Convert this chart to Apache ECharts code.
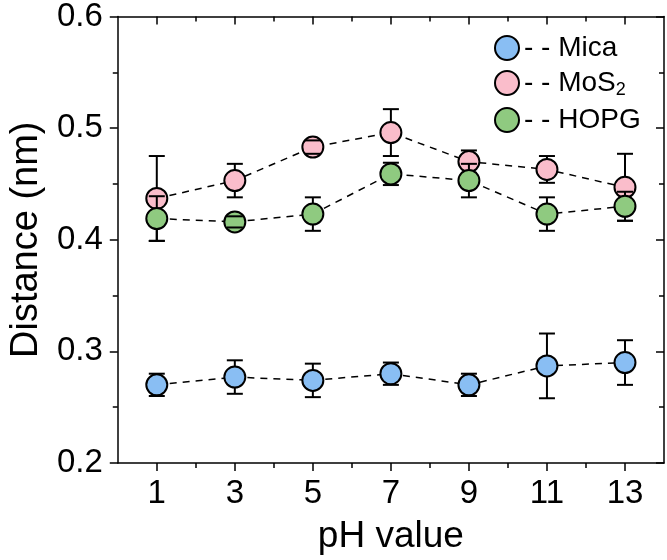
<!DOCTYPE html>
<html>
<head>
<meta charset="utf-8">
<script src="https://cdn.jsdelivr.net/npm/echarts@6/dist/echarts.min.js"></script>
<style>
  html, body { margin: 0; padding: 0; background: #fff; }
  #chart { width: 667px; height: 560px; }
</style>
</head>
<body>
<div id="chart"></div>
<script>
  // pH values and measured distances (nm)
  const phValues = [1, 3, 5, 7, 9, 11, 13];
  const micaMean = [0.270, 0.277, 0.274, 0.280, 0.270, 0.287, 0.290];
  const micaErr  = [0.010, 0.015, 0.015, 0.010, 0.010, 0.029, 0.020];
  const mos2Mean = [0.437, 0.453, 0.483, 0.496, 0.470, 0.463, 0.447];
  const mos2Err  = [0.038, 0.015, 0.006, 0.021, 0.010, 0.012, 0.030];
  const hopgMean = [0.419, 0.416, 0.423, 0.459, 0.453, 0.423, 0.430];
  const hopgErr  = [0.020, 0.005, 0.015, 0.010, 0.015, 0.015, 0.013];

  const xTickLabels = [1, 3, 5, 7, 9, 11, 13];
  const xMinorTicks = [2, 4, 6, 8, 10, 12];
  const yTickLabels = [0.2, 0.3, 0.4, 0.5, 0.6];

  const FONT = "'Liberation Sans', Arial, sans-serif";
  const SYMBOL = 21;
  const CAP = 16;

  let chart = echarts.init(document.getElementById('chart'));

  // error bar: caps always drawn, stem stops at the circle edge
  function errRender(params, api) {
    const x = api.value(0), y = api.value(1), e = api.value(2);
    const c = api.coord([x, y]);
    const top = api.coord([x, y + e]);
    const bot = api.coord([x, y - e]);
    const r = SYMBOL / 2;
    const st = { stroke: '#000', lineWidth: 2 };
    const children = [
      { type: 'line', shape: { x1: c[0] - CAP / 2, y1: top[1], x2: c[0] + CAP / 2, y2: top[1] }, style: st },
      { type: 'line', shape: { x1: c[0] - CAP / 2, y1: bot[1], x2: c[0] + CAP / 2, y2: bot[1] }, style: st }
    ];
    if (top[1] < c[1] - r) {
      children.push({ type: 'line', shape: { x1: c[0], y1: top[1], x2: c[0], y2: c[1] - r }, style: st });
    }
    if (bot[1] > c[1] + r) {
      children.push({ type: 'line', shape: { x1: c[0], y1: c[1] + r, x2: c[0], y2: bot[1] }, style: st });
    }
    return { type: 'group', children: children };
  }

  function pts(means) {
    return phValues.map((p, i) => [p, means[i]]);
  }
  function errPts(means, errs) {
    return phValues.map((p, i) => [p, means[i], errs[i]]);
  }

  function lineSeries(name, color, means, z) {
    return {
      name: name,
      type: 'line',
      data: pts(means),
      symbol: 'circle',
      symbolSize: SYMBOL,
      z: z,
      itemStyle: { color: color, borderColor: '#000', borderWidth: 2 },
      lineStyle: { color: '#000', width: 1.5, type: [7, 6] },
      emphasis: { disabled: true }
    };
  }
  function errSeries(means, errs, z) {
    return {
      type: 'custom',
      renderItem: errRender,
      data: errPts(means, errs),
      encode: { x: 0, y: 1 },
      z: z,
      silent: true
    };
  }

  const axisLineStyle = { color: '#000', width: 1.5 };

  chart.setOption({
    backgroundColor: '#fff',
    animation: false,
    textStyle: { fontFamily: FONT },
    grid: { left: 104, right: 3, top: 15, bottom: 95 },
    legend: {
      orient: 'vertical',
      left: 489,
      top: 29,
      itemWidth: 24,
      itemHeight: 24,
      itemGap: 7,
      icon: 'circle',
      data: ['Mica', 'MoS2', 'HOPG'],
      itemStyle: { borderColor: '#000', borderWidth: 2 },
      formatter: function (name) {
        if (name === 'MoS2') return '{d|- - }{n|MoS}{s|2}';
        return '{d|- - }{n|' + name + '}';
      },
      textStyle: {
        fontFamily: FONT,
        color: '#000',
        rich: {
          d: { fontSize: 28, fontFamily: FONT, color: '#000' },
          n: { fontSize: 28, fontFamily: FONT, color: '#000' },
          s: { fontSize: 18, fontFamily: FONT, color: '#000', verticalAlign: 'bottom', padding: [14, 0, 0, 0] }
        }
      }
    },
    xAxis: [
      {
        type: 'value', position: 'bottom', min: 0, max: 14, interval: 1,
        name: 'pH value', nameLocation: 'middle', nameGap: 55,
        nameTextStyle: { fontSize: 37, color: '#000', fontFamily: FONT },
        axisLine: { onZero: false, lineStyle: axisLineStyle },
        axisTick: { customValues: xTickLabels, length: 8, lineStyle: axisLineStyle },
        axisLabel: { customValues: xTickLabels, fontSize: 33, color: '#000', margin: 14, fontFamily: FONT },
        splitLine: { show: false }
      },
      {
        type: 'value', position: 'bottom', min: 0, max: 14, interval: 1,
        axisLine: { show: false, onZero: false },
        axisTick: { customValues: xMinorTicks, length: 5, lineStyle: axisLineStyle },
        axisLabel: { show: false },
        splitLine: { show: false }
      },
      {
        type: 'value', position: 'top', min: 0, max: 14, interval: 1,
        axisLine: { onZero: false, lineStyle: axisLineStyle },
        axisTick: { inside: true, customValues: xTickLabels, length: 8, lineStyle: axisLineStyle },
        axisLabel: { show: false },
        splitLine: { show: false }
      },
      {
        type: 'value', position: 'top', min: 0, max: 14, interval: 1,
        axisLine: { show: false, onZero: false },
        axisTick: { inside: true, customValues: xMinorTicks, length: 5, lineStyle: axisLineStyle },
        axisLabel: { show: false },
        splitLine: { show: false }
      }
    ],
    yAxis: [
      {
        type: 'value', position: 'left', min: 0.2, max: 0.6, interval: 0.1,
        name: 'Distance (nm)', nameLocation: 'middle', nameGap: 65,
        nameTextStyle: { fontSize: 38, color: '#000', fontFamily: FONT },
        axisLine: { onZero: false, lineStyle: axisLineStyle },
        axisTick: { length: 8, lineStyle: axisLineStyle },
        minorTick: { show: true, splitNumber: 2, length: 5, lineStyle: axisLineStyle },
        axisLabel: {
          customValues: yTickLabels, fontSize: 33, color: '#000', margin: 15, fontFamily: FONT,
          formatter: v => v.toFixed(1)
        },
        splitLine: { show: false },
        minorSplitLine: { show: false }
      },
      {
        type: 'value', position: 'right', min: 0.2, max: 0.6, interval: 0.1,
        axisLine: { onZero: false, lineStyle: axisLineStyle },
        axisTick: { inside: true, length: 8, lineStyle: axisLineStyle },
        minorTick: { show: true, splitNumber: 2, length: 5, lineStyle: axisLineStyle },
        axisLabel: { show: false },
        splitLine: { show: false },
        minorSplitLine: { show: false }
      }
    ],
    series: [
      lineSeries('Mica', '#89BEF3', micaMean, 2),
      errSeries(micaMean, micaErr, 3),
      lineSeries('MoS2', '#FABDCB', mos2Mean, 4),
      errSeries(mos2Mean, mos2Err, 5),
      lineSeries('HOPG', '#8FCA80', hopgMean, 6),
      errSeries(hopgMean, hopgErr, 7)
    ]
  });
</script>
</body>
</html>
